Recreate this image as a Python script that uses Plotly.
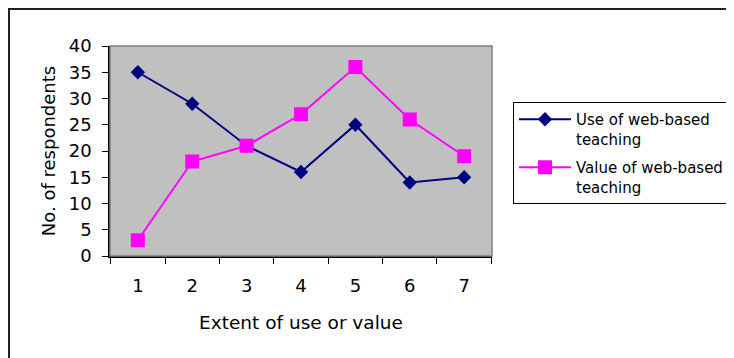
import plotly.graph_objects as go

categories = ["1", "2", "3", "4", "5", "6", "7"]
use_values = [35, 29, 21, 16, 25, 14, 15]
value_values = [3, 18, 21, 27, 36, 26, 19]
series_names = ["Use of web-based<br>teaching", "Value of web-based<br>teaching"]
y_ticks = [0, 5, 10, 15, 20, 25, 30, 35, 40]

# page is offset by the 8px body margin; work in figure coordinates
OFF = 8
W, H = 734 - OFF, 358 - OFF
L, R, T, B = 110 - OFF, 492 - OFF, 46 - OFF, 256 - OFF

def px_x(p):
    return (p - OFF - L) / (R - L)

def px_y(p):
    return (B - (p - OFF)) / (B - T)

fig = go.Figure()
fig.add_trace(go.Scatter(
    x=categories, y=use_values, name=series_names[0], mode="lines+markers",
    legendgroup="use",
    line=dict(color="#000080", width=2),
    marker=dict(symbol="diamond", size=11, color="#000080"),
))
fig.add_trace(go.Scatter(
    x=categories, y=value_values, name=series_names[1], mode="lines+markers",
    legendgroup="value",
    line=dict(color="#FF00FF", width=2),
    marker=dict(symbol="square", size=14, color="#FF00FF"),
))

font_family = "DejaVu Sans, sans-serif"

fig.update_layout(
    width=W, height=H,
    margin=dict(l=L, r=W - R, t=T, b=H - B, pad=0, autoexpand=False),
    paper_bgcolor="white",
    plot_bgcolor="#C0C0C0",
    font=dict(family=font_family, color="black", size=18),
    showlegend=True,
    legend=dict(
        x=px_x(513), y=px_y(102), xanchor="left", yanchor="top",
        bordercolor="black", borderwidth=1, bgcolor="white",
        font=dict(size=15, family=font_family),
        tracegroupgap=6, itemwidth=52, valign="top",
    ),
    xaxis=dict(
        type="category", tickson="boundaries", ticks="outside", ticklen=6,
        tickcolor="black", showline=True, linecolor="black", linewidth=1.5,
        showgrid=False, zeroline=False,
        tickfont=dict(size=18), ticklabelstandoff=13,
        title=dict(text="Extent of use or value", font=dict(size=18.5), standoff=21),
    ),
    yaxis=dict(
        range=[0, 40], tickvals=y_ticks, ticks="outside", ticklen=6,
        tickcolor="black", showline=True, linecolor="black", linewidth=1.5,
        showgrid=False, zeroline=False,
        tickfont=dict(size=18), ticklabelstandoff=7,
        title=dict(text="No. of respondents", font=dict(size=18), standoff=8),
    ),
    shapes=[
        dict(type="rect", xref="paper", yref="paper", x0=0, x1=1, y0=0, y1=1,
             line=dict(color="#808080", width=1.5), layer="above"),
        dict(type="rect", xref="paper", yref="paper",
             x0=px_x(9), x1=px_x(760), y0=px_y(380), y1=px_y(9),
             line=dict(color="#222222", width=2), layer="above"),
    ],
)

fig.write_html("out.html")
